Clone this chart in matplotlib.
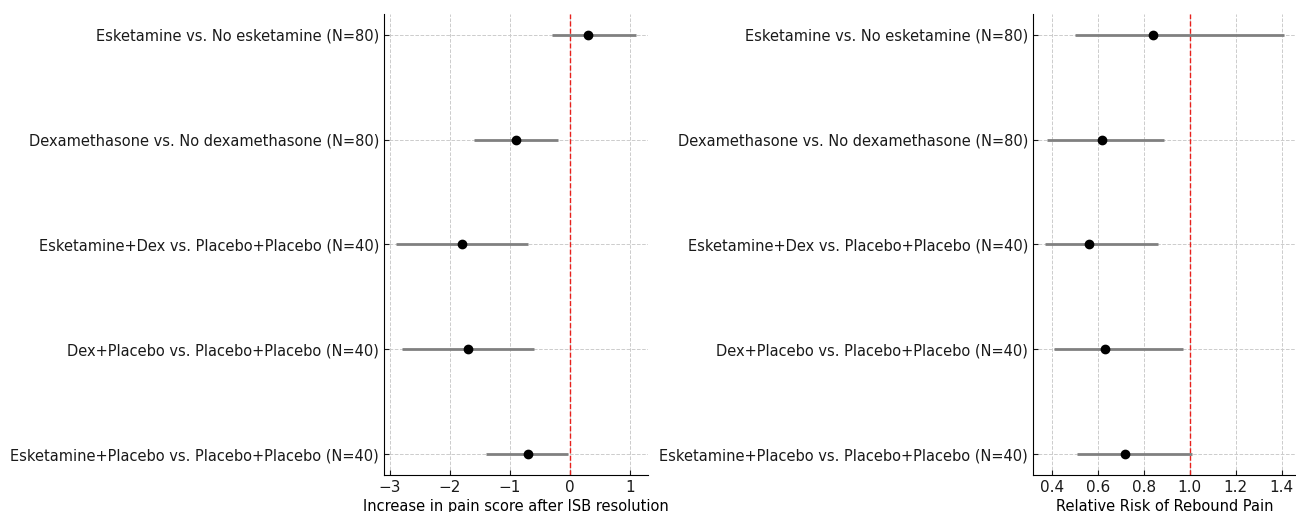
import numpy as np
import matplotlib
matplotlib.use("Agg")
import matplotlib.pyplot as plt

# comparisons, top to bottom
labels = ["Esketamine vs. No esketamine (N=80)",
          "Dexamethasone vs. No dexamethasone (N=80)",
          "Esketamine+Dex vs. Placebo+Placebo (N=40)",
          "Dex+Placebo vs. Placebo+Placebo (N=40)",
          "Esketamine+Placebo vs. Placebo+Placebo (N=40)"]

# increase in pain score after ISB resolution
pain_est = [0.3, -0.9, -1.8, -1.7, -0.7]
pain_lo = [-0.3, -1.6, -2.9, -2.8, -1.4]
pain_hi = [1.1, -0.2, -0.7, -0.6, -0.03]

# relative risk of rebound pain
rr_est = [0.84, 0.62, 0.56, 0.63, 0.72]
rr_lo = [0.50, 0.38, 0.37, 0.41, 0.51]
rr_hi = [1.41, 0.89, 0.86, 0.97, 1.01]

plt.rcParams["text.color"] = "#1a1a1a"
plt.rcParams["xtick.color"] = "#1a1a1a"
plt.rcParams["ytick.color"] = "#1a1a1a"

fig = plt.figure(figsize=(12.96, 5.12), dpi=100)
ax1 = fig.add_axes([0.2963, 0.072, 0.2037, 0.901])
ax2 = fig.add_axes([0.797, 0.072, 0.203, 0.901])


def forest(ax, est, lo, hi, ref, xlabel):
    y = np.arange(len(labels))[::-1]
    est = np.array(est)
    err = [est - np.array(lo), np.array(hi) - est]
    ax.errorbar(est, y, xerr=err, fmt="o", color="black", ecolor="gray",
                elinewidth=2, capsize=0, markersize=6, zorder=3)
    ax.axvline(ref, color="#e8201c", linestyle="--", linewidth=1)
    ax.set_yticks(y)
    ax.set_yticklabels(labels, fontsize=10.5)
    ax.set_xlabel(xlabel, fontsize=10.5, labelpad=3)
    ax.grid(True, linestyle="--", color="#cccccc", linewidth=0.7)
    ax.set_axisbelow(True)
    ax.tick_params(direction="in", labelsize=10.5)
    ax.tick_params(axis="x", labelsize=11)
    ax.spines["top"].set_visible(False)
    ax.spines["right"].set_visible(False)


forest(ax1, pain_est, pain_lo, pain_hi, 0, "Increase in pain score after ISB resolution")
forest(ax2, rr_est, rr_lo, rr_hi, 1, "Relative Risk of Rebound Pain")
ax2.set_xticks([0.4, 0.6, 0.8, 1.0, 1.2, 1.4])

fig.savefig("out.png", dpi=100)
